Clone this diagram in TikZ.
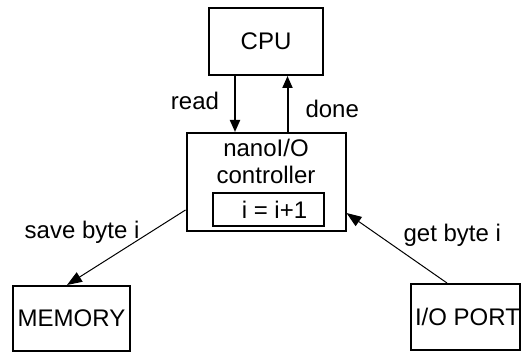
\documentclass[tikz,border=0pt]{standalone}
\usepackage{fontspec}
\setmainfont{Liberation Sans}
\usetikzlibrary{arrows.meta}

\begin{document}
\begin{tikzpicture}[x=0.5pt, y=-0.5pt,
  every node/.style = {font=\fontsize{12}{13.5}\selectfont, inner sep=0pt},
  unit/.style = {shape=rectangle, draw, line width=1pt, align=center},
  flow/.style = {-{Triangle[length=6pt,width=5pt]}, line width=1pt},
  bus/.style = {-{Triangle[length=7.5pt,width=5.5pt]}, line width=0.5pt}]
  \useasboundingbox (0,0) rectangle (522,352);
  % units
  \node[unit, minimum width=57pt, minimum height=33.5pt] (cpu) at (266,41.5) {CPU};
  \node[unit, minimum width=79.5pt, minimum height=49pt,
    label={[anchor=north, yshift=-3.5pt, align=center]north:nanoI/O\\controller}] (ctrl) at (266,182) {};
  \node[unit, minimum width=55.5pt, minimum height=16.5pt] (inc) at (268.5,209.5) {\hspace{6pt}i = i+1};
  \node[unit, minimum width=58.5pt, minimum height=32.5pt] (mem) at (71.5,318.5) {MEMORY};
  \node[unit, minimum width=53.5pt, minimum height=33pt] (io) at (465.5,317) {\hspace{2pt}I/O PORT};
  % connectors
  \draw[flow] ([xshift=-15.5pt]cpu.south) -- ([xshift=-15.5pt]ctrl.north)
    node[pos=0.45, left=7.5pt] (read) {read};
  \draw[flow] ([xshift=10.75pt]ctrl.north) -- ([xshift=10.75pt]cpu.south)
    node[pos=0.41, right=8.5pt] (done) {done};
  \draw[bus] ([yshift=-14pt]ctrl.west) -- ([xshift=-2.25pt]mem.north)
    node[pos=0.3, left=5pt] (save) {save byte i};
  \draw[bus] ([xshift=-9.25pt]io.north) -- ([yshift=-15.5pt]ctrl.east)
    node[pos=0.686, right=12.5pt] (get) {get byte i};
\end{tikzpicture}
\end{document}
